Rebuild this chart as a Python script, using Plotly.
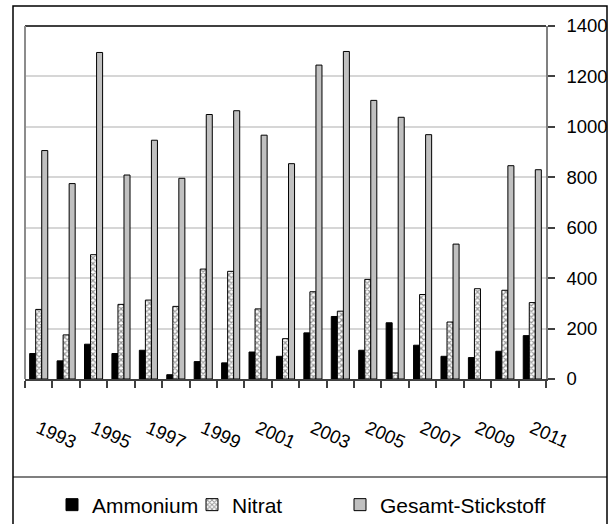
import plotly.graph_objects as go

# Annual loads, 1993-2011
years = list(range(1993, 2012))
ammonium = [101, 72, 138, 101, 114, 17, 69, 64, 107, 90, 183, 248, 114, 223, 134, 90, 85, 110, 172]
nitrat = [276, 175, 493, 296, 313, 288, 436, 427, 278, 160, 346, 269, 395, 24, 335, 226, 358, 352, 303]
gesamt = [906, 775, 1295, 809, 947, 796, 1049, 1064, 967, 854, 1245, 1299, 1105, 1038, 969, 535, None, 846, 830]

series_names = ["Ammonium", "Nitrat", "Gesamt-Stickstoff"]
label_years = list(range(1993, 2012, 2))
y_ticks = list(range(0, 1401, 200))

W, H = 610, 524
ML, MR, MT, MB = 25, 64, 26, 145
PW, PH = W - ML - MR, H - MT - MB


def px_x(p):
    return (p - ML) / PW


def px_y(p):
    return (H - MB - p) / PH


fig = go.Figure()
fig.add_trace(go.Bar(
    x=years, y=ammonium, name=series_names[0], legend="legend",
    marker=dict(color="#000000", line=dict(color="#000000", width=1)),
))
fig.add_trace(go.Bar(
    x=years, y=nitrat, name=series_names[1], legend="legend2",
    marker=dict(color="#ffffff", line=dict(color="#000000", width=1),
                pattern=dict(shape="x", size=4, solidity=0.5,
                             fgcolor="#303030", bgcolor="#ffffff")),
))
fig.add_trace(go.Bar(
    x=years, y=gesamt, name=series_names[2], legend="legend3",
    marker=dict(color="#c0c0c0", line=dict(color="#000000", width=1)),
))

axis_font = dict(family="Liberation Sans, Arial, sans-serif", size=18.5, color="#000000")
legend_font = dict(family="Liberation Sans, Arial, sans-serif", size=21, color="#000000")


def legend_box(left_px):
    return dict(
        orientation="h", x=px_x(left_px), xanchor="left",
        y=px_y(505), yanchor="middle",
        font=legend_font, itemwidth=30, bgcolor="rgba(0,0,0,0)",
    )


fig.update_layout(
    width=W, height=H,
    margin=dict(l=ML, r=MR, t=MT, b=MB, pad=0, autoexpand=False),
    paper_bgcolor="#ffffff", plot_bgcolor="#ffffff",
    barmode="group", bargap=0.34, bargroupgap=0,
    showlegend=True,
    legend=legend_box(52),
    legend2=legend_box(192),
    legend3=legend_box(340),
    xaxis=dict(
        range=[1992.5, 2011.5], automargin=False,
        tickmode="array", tickvals=label_years, ticktext=[str(y) for y in label_years],
        ticks="", tickangle=24, tickfont=axis_font, ticklabelstandoff=30,
        showgrid=False, zeroline=False,
        showline=True, linecolor="#404040", linewidth=1.5,
        minor=dict(ticks="outside", tick0=1992.5, dtick=1, ticklen=7,
                   tickcolor="#404040", tickwidth=1.5, showgrid=False),
    ),
    yaxis=dict(
        range=[0, 1400], side="right", automargin=False,
        tickmode="array", tickvals=y_ticks,
        ticks="outside", ticklen=7, tickcolor="#404040", tickwidth=1.5,
        tickfont=axis_font, ticklabelstandoff=8,
        showgrid=True, gridcolor="#d6d6d6", gridwidth=1.5,
        zeroline=False,
        showline=True, linecolor="#808080", linewidth=1.5,
    ),
)

# Frame of the plot area: dark top edge, grey left edge
fig.add_shape(type="line", xref="paper", yref="paper", x0=0, x1=1, y0=1, y1=1,
              line=dict(color="#000000", width=1.5))
fig.add_shape(type="line", xref="paper", yref="paper", x0=0, x1=0, y0=0, y1=1,
              line=dict(color="#8c8c8c", width=2))

# Outer chart border and the rule above the legend
fig.add_shape(type="rect", xref="paper", yref="paper",
              x0=px_x(13), x1=px_x(607), y0=px_y(540), y1=px_y(6),
              line=dict(color="#000000", width=1.5), fillcolor="rgba(0,0,0,0)", layer="below")
fig.add_shape(type="line", xref="paper", yref="paper",
              x0=px_x(13), x1=px_x(607), y0=px_y(477), y1=px_y(477),
              line=dict(color="#000000", width=1.2))

# Chart heading sitting above the frame
fig.add_annotation(
    text="Stickstoffeinleitungen in den Fluss (Tonnen/a)",
    xref="paper", yref="paper", x=px_x(120), y=px_y(0),
    xanchor="left", yanchor="bottom", showarrow=False,
    font=dict(family="Liberation Serif, Times New Roman, serif", size=22,
              color="#000000", style="italic"),
)

fig.write_html("out.html")
